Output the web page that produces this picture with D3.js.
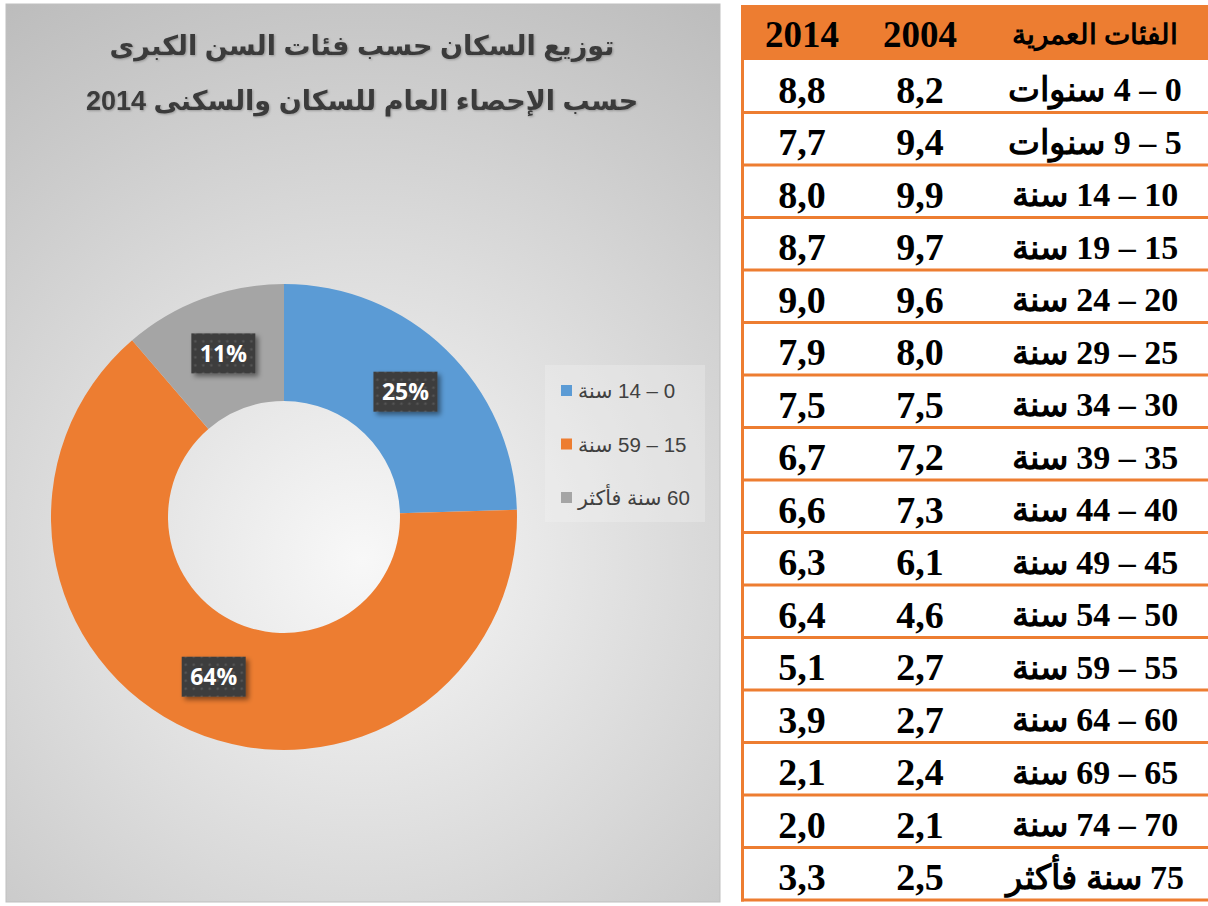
<!DOCTYPE html>
<html><head><meta charset="utf-8">
<script src="https://cdn.jsdelivr.net/npm/d3@7"></script>
<style>html,body{margin:0;padding:0;background:#fff;overflow:hidden}</style>
</head><body>
<script>
// ---- data ----
const titleLines = ["توزيع السكان حسب فئات السن الكبرى", "حسب الإحصاء العام للسكان والسكنى 2014"];
const broadGroups = ["0 – 14 سنة", "15 – 59 سنة", "60 سنة فأكثر"];
const broadShares = [24.5, 64.2, 11.3];
const broadLabels = ["25%", "64%", "11%"];
const broadColors = ["#5B9BD5", "#ED7D31", "#A5A5A5"];

const tableHeaders = ["الفئات العمرية", "2004", "2014"];
const ageGroups = ["0 – 4 سنوات", "5 – 9 سنوات", "10 – 14 سنة", "15 – 19 سنة", "20 – 24 سنة",
  "25 – 29 سنة", "30 – 34 سنة", "35 – 39 سنة", "40 – 44 سنة", "45 – 49 سنة", "50 – 54 سنة",
  "55 – 59 سنة", "60 – 64 سنة", "65 – 69 سنة", "70 – 74 سنة", "75 سنة فأكثر"];
const values2004 = [8.2, 9.4, 9.9, 9.7, 9.6, 8.0, 7.5, 7.2, 7.3, 6.1, 4.6, 2.7, 2.7, 2.4, 2.1, 2.5];
const values2014 = [8.8, 7.7, 8.0, 8.7, 9.0, 7.9, 7.5, 6.7, 6.6, 6.3, 6.4, 5.1, 3.9, 2.1, 2.0, 3.3];

// ---- drawing ----
const W = 1208, H = 906;
const svg = d3.select("body").append("svg").attr("width", W).attr("height", H);
const defs = svg.append("defs");

const rg = defs.append("radialGradient").attr("id", "bg").attr("gradientUnits", "userSpaceOnUse")
  .attr("cx", 362).attr("cy", 560).attr("r", 660);
rg.append("stop").attr("offset", "0").attr("stop-color", "#f8f8f8");
rg.append("stop").attr("offset", "1").attr("stop-color", "#bcbcbc");

const pat = defs.append("pattern").attr("id", "dots").attr("patternUnits", "userSpaceOnUse")
  .attr("width", 8).attr("height", 8);
pat.append("rect").attr("width", 8).attr("height", 8).attr("fill", "#3d3d3d");
pat.append("circle").attr("cx", 4).attr("cy", 4).attr("r", 1.3).attr("fill", "#555");

const sh = defs.append("filter").attr("id", "shadow").attr("x", "-30%").attr("y", "-30%").attr("width", "160%").attr("height", "160%");
sh.append("feDropShadow").attr("dx", 3).attr("dy", 3).attr("stdDeviation", 2.5).attr("flood-color", "#000").attr("flood-opacity", 0.45);
const tsh = defs.append("filter").attr("id", "tshadow");
tsh.append("feDropShadow").attr("dx", 1).attr("dy", 1).attr("stdDeviation", 0.8).attr("flood-color", "#000").attr("flood-opacity", 0.25);

// left panel
svg.append("rect").attr("x", 6).attr("y", 4).attr("width", 714).attr("height", 898)
  .attr("fill", "url(#bg)").attr("stroke", "#bfbfbf").attr("stroke-width", 1);

// title
svg.append("g").selectAll("text").data(titleLines).join("text")
  .attr("x", 362).attr("y", (d, i) => 55 + i * 55)
  .attr("text-anchor", "middle").attr("direction", "rtl")
  .attr("font-family", "'Liberation Sans', 'DejaVu Sans', Arial, sans-serif")
  .attr("font-weight", "bold").attr("font-size", 27).attr("fill", "#3a3a3a")
  .attr("filter", "url(#tshadow)")
  .text(d => d);

// donut
const cx = 284, cy = 517, R = 233, r0 = 116;
const pie = d3.pie().sort(null).value(d => d)(broadShares);
const arc = d3.arc().innerRadius(r0).outerRadius(R);
const g = svg.append("g").attr("transform", `translate(${cx},${cy})`);
g.selectAll("path").data(pie).join("path")
  .attr("d", arc).attr("fill", (d, i) => broadColors[i]);

const lab = g.selectAll("g.lab").data(pie).join("g").attr("class", "lab")
  .attr("transform", d => `translate(${arc.centroid(d)})`);
lab.append("rect").attr("x", -32).attr("y", -20).attr("width", 64).attr("height", 40)
  .attr("fill", "url(#dots)").attr("filter", "url(#shadow)");
lab.append("text").attr("text-anchor", "middle").attr("dy", "0.36em")
  .attr("font-family", "'Open Sans', 'Noto Sans', sans-serif").attr("font-weight", "bold")
  .attr("font-size", 23).attr("fill", "#fff")
  .text((d, i) => broadLabels[i]);

// legend
const lg = svg.append("g");
lg.append("rect").attr("x", 545).attr("y", 365).attr("width", 160).attr("height", 157)
  .attr("fill", "#f6f6f6").attr("opacity", 0.3);
const li = lg.selectAll("g.li").data(broadGroups).join("g").attr("class", "li")
  .attr("transform", (d, i) => `translate(0,${391 + i * 53.5})`);
li.append("rect").attr("x", 561).attr("y", -6).attr("width", 11).attr("height", 11)
  .attr("fill", (d, i) => broadColors[i]);
li.append("text").attr("x", 679).attr("y", 0).attr("dy", "0.35em")
  .attr("direction", "rtl").attr("text-anchor", "start")
  .attr("font-family", "'Liberation Sans', 'DejaVu Sans', Arial, sans-serif")
  .attr("font-size", 20.5).attr("fill", "#404040").text(d => d)
  .each(function () {
    const w = this.getComputedTextLength();
    d3.select(this).attr("x", 578 + w);
  });

// table
const tx0 = 741, tx1 = 1208, tTop = 5, headH = 55, rowH = 52.5;
const orange = "#ED7D31";
const colX = [1095, 920, 802];
const rows = ageGroups.map((a, i) => [a, values2004[i], values2014[i]]);
const fmt = v => d3.format(".1f")(v).replace(".", ",");
const serif = "'Liberation Serif', 'DejaVu Serif', serif";
const tg = svg.append("g");
tg.append("rect").attr("x", tx0).attr("y", tTop).attr("width", tx1 - tx0).attr("height", headH).attr("fill", orange);
tg.append("g").selectAll("text").data(tableHeaders).join("text")
  .attr("x", (d, i) => colX[i]).attr("y", tTop + headH / 2 + 2).attr("dy", "0.35em")
  .attr("text-anchor", "middle").attr("direction", "rtl")
  .attr("font-family", serif).attr("font-weight", "bold")
  .attr("font-size", (d, i) => i === 0 ? 28 : 37).attr("fill", "#000").text(d => d);
const rg2 = tg.selectAll("g.row").data(rows).join("g").attr("class", "row")
  .attr("transform", (d, i) => `translate(0,${tTop + headH + i * rowH})`);
rg2.append("line").attr("x1", tx0).attr("x2", tx1).attr("y1", rowH).attr("y2", rowH)
  .attr("stroke", orange).attr("stroke-width", 3);
rg2.selectAll("text").data(d => d).join("text")
  .attr("x", (d, i) => colX[i]).attr("y", rowH / 2 + 3).attr("dy", "0.35em")
  .attr("text-anchor", "middle").attr("direction", "rtl")
  .attr("font-family", serif).attr("font-weight", "bold")
  .attr("font-size", (d, i) => i === 0 ? 34 : 38).attr("fill", "#000")
  .text((d, i) => i === 0 ? d : fmt(d));
tg.append("line").attr("x1", tx0 + 1.5).attr("x2", tx0 + 1.5).attr("y1", tTop).attr("y2", tTop + headH + rows.length * rowH + 1.5)
  .attr("stroke", orange).attr("stroke-width", 3);
</script>
</body></html>
